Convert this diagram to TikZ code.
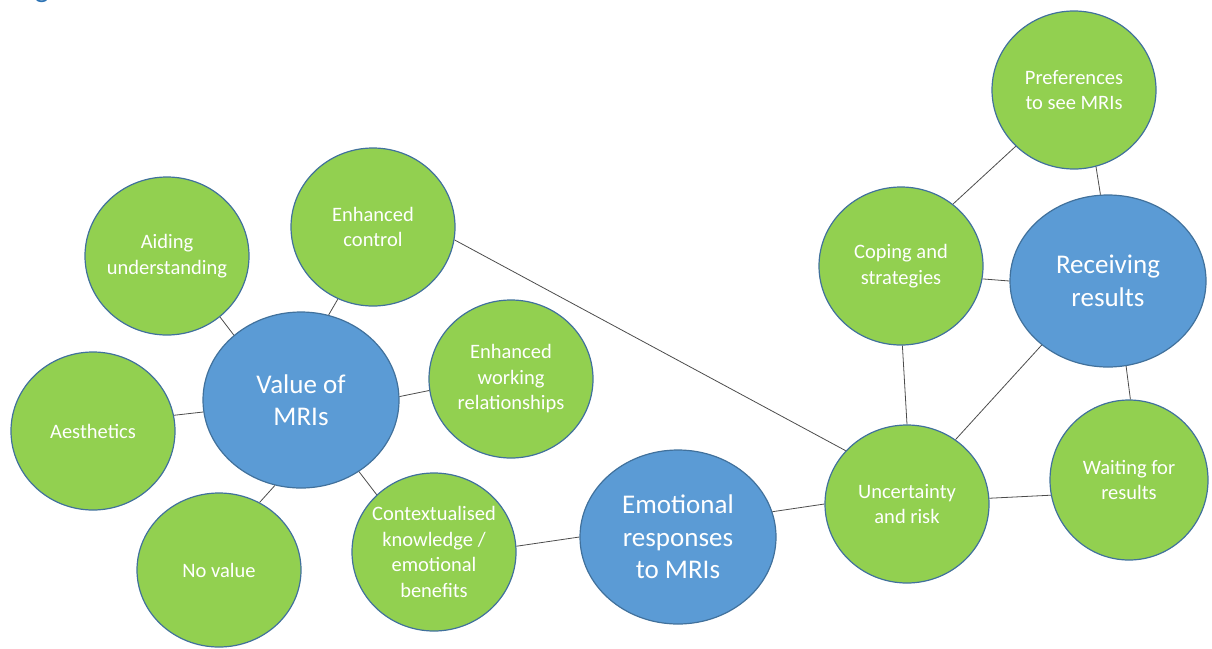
\documentclass[tikz,border=0pt]{standalone}
\usepackage{fontspec}
\setmainfont{Carlito}
\usetikzlibrary{shapes.geometric}
\definecolor{gfill}{HTML}{92D050}
\definecolor{bfill}{HTML}{5B9BD5}
\definecolor{edgec}{HTML}{41719C}
\definecolor{titlec}{HTML}{2E74B5}
\begin{document}
\begin{tikzpicture}[x=1pt,y=-1pt,
  bub/.style={ellipse, draw=edgec, line width=1.2pt, inner sep=-10pt, text=white, align=center},
  gbub/.style={bub, fill=gfill, minimum width=164pt, minimum height=158pt, font=\fontsize{20.5}{25.5}\selectfont},
  bbub/.style={bub, fill=bfill, minimum width=196pt, minimum height=174pt, font=\fontsize{27}{32.5}\selectfont},
  link/.style={draw=black!70, line width=0.8pt}]
\useasboundingbox (0,0) rectangle (1212,648);
\begin{scope}
\clip (0,0) rectangle (1212,648);
\node[anchor=base, text=titlec, font=\fontsize{30}{30}\selectfont, inner sep=0pt] (ttl) at (42,-3) {g};
\end{scope}
% nodes
\node[gbub] (pref) at (1074,90) {Preferences\\to see MRIs};
\node[bbub, minimum height=172pt] (recv) at (1108,281) {Receiving\\results};
\node[gbub] (cope) at (901,266) {Coping and\\strategies};
\node[gbub] (unc) at (907,504) {Uncertainty\\and risk};
\node[gbub, minimum width=158pt, minimum height=160pt] (wait) at (1129,480) {Waiting for\\results};
\node[bbub] (emo) at (678,537) {Emotional\\responses\\to MRIs};
\node[gbub] (ctx) at (434,552) {Contextualised\\knowledge /\\emotional\\benefits};
\node[gbub, minimum height=154pt] (noval) at (219,570) {No value};
\node[gbub] (aes) at (93,431) {Aesthetics};
\node[bbub, minimum height=176pt] (val) at (301,400) {Value of\\MRIs};
\node[gbub] (aid) at (167,256) {Aiding\\understanding};
\node[gbub] (ctrl) at (373,227) {Enhanced\\control};
\node[gbub] (work) at (511,379) {Enhanced\\working\\relationships};
% connectors
\draw[link] (pref.224.5) -- (cope.50.7);
\draw[link] (pref.286) -- (recv.95.3);
\draw[link] (cope.-9.7) -- (recv.180);
\draw[link] (cope.271.5) -- (unc.90.7);
\draw[link] (recv.224) -- (unc.53);
\draw[link] (recv.282.5) -- (wait.89.3);
\draw[link] (unc.4) -- (wait.191.4);
\draw[link] (ctrl.-9) -- (unc.139);
\draw[link] (emo.15.3) -- (unc.180.7);
\draw[link] (ctx.4.8) -- (emo.180);
\draw[link] (val.309) -- (ctx.135);
\draw[link] (val.253) -- (noval.59);
\draw[link] (val.187) -- (aes.11);
\draw[link] (aid.311.6) -- (val.136);
\draw[link] (ctrl.244) -- (val.72);
\draw[link] (val.2) -- (work.188);
\end{tikzpicture}
\end{document}
